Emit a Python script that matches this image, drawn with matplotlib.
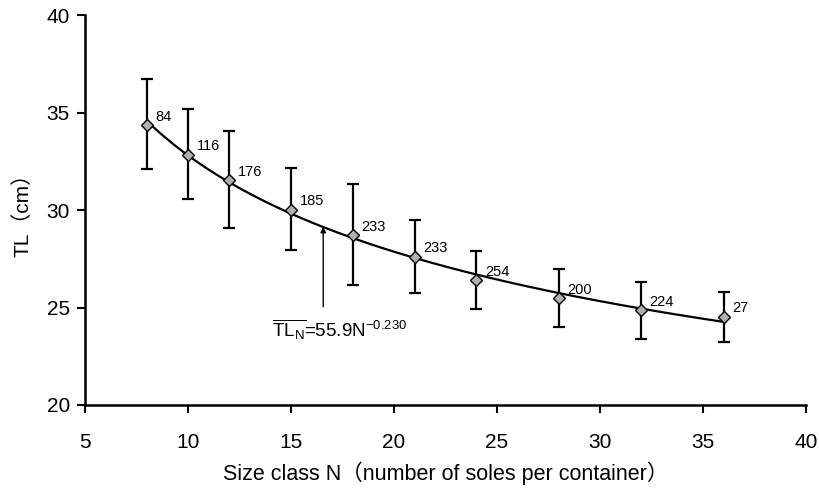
import numpy as np
import matplotlib
matplotlib.use("Agg")
import matplotlib.pyplot as plt

plt.rcParams['font.family'] = ['Liberation Sans', 'Noto Sans CJK JP']
plt.rcParams['mathtext.fontset'] = 'custom'
plt.rcParams['mathtext.rm'] = 'Liberation Sans'
plt.rcParams['mathtext.it'] = 'Liberation Sans'

# Data
size_class = [8, 10, 12, 15, 18, 21, 24, 28, 32, 36]
mean_tl = [34.36, 32.84, 31.52, 30.01, 28.72, 27.61, 26.41, 25.47, 24.87, 24.53]
upper_tl = [36.70, 35.16, 34.04, 32.14, 31.32, 29.49, 27.90, 26.96, 26.32, 25.81]
lower_tl = [32.09, 30.58, 29.08, 27.95, 26.17, 25.74, 24.91, 24.00, 23.40, 23.25]
counts = ["84", "116", "176", "185", "233", "233", "254", "200", "224", "27"]
x_ticks = [5, 10, 15, 20, 25, 30, 35, 40]
y_ticks = [20, 25, 30, 35, 40]
eq_text = r'$\overline{\mathrm{TL}_{\mathrm{N}}}$=55.9N$^{\mathrm{-0.230}}$'
arrow_x = 16.56
arrow_y_from = 25.04
arrow_y_to = 29.14

x = np.array(size_class, dtype=float)
m = np.array(mean_tl)
yerr = np.vstack([m - np.array(lower_tl), np.array(upper_tl) - m])

fig = plt.figure(figsize=(8.19, 4.93), dpi=100)
ax = fig.add_axes([0.104, 0.1785, 0.88, 0.791])

# power-law fit curve
b, loga = np.polyfit(np.log(x), np.log(m), 1)
xc = np.linspace(x.min(), x.max(), 200)
ax.plot(xc, np.exp(loga) * xc ** b, color='black', lw=1.6, zorder=2)

ax.errorbar(x, m, yerr=yerr, fmt='none', ecolor='black', elinewidth=1.6,
            capsize=4, capthick=1.6, zorder=3)
ax.plot(x, m, linestyle='none', marker='D', markersize=6,
        markerfacecolor='#b0b0b0', markeredgecolor='black',
        markeredgewidth=1.0, zorder=4)

for xi, yi, c in zip(x, m, counts):
    ax.annotate(c, (xi, yi), xytext=(6, 6), textcoords='offset points',
                ha='left', va='center', fontsize=10.5)

ax.annotate('', xy=(arrow_x, arrow_y_to), xytext=(arrow_x, arrow_y_from),
            arrowprops=dict(arrowstyle='-|>', color='black', lw=1.0,
                            mutation_scale=8, shrinkA=0, shrinkB=0))
ax.text(14.07, 23.5, eq_text, fontsize=13.5, ha='left', va='baseline')

ax.set_xlim(5, 40)
ax.set_ylim(20, 40)
ax.set_xticks(x_ticks)
ax.set_yticks(y_ticks)
ax.spines['top'].set_visible(False)
ax.spines['right'].set_visible(False)
for s in ('left', 'bottom'):
    ax.spines[s].set_linewidth(1.8)
ax.tick_params(axis='y', direction='out', length=6, width=1.5, pad=5, labelsize=15)
ax.tick_params(axis='x', direction='out', length=6, width=1.5, pad=14, labelsize=15)

ax.set_xlabel('Size class N（number of soles per container）', fontsize=15.5, labelpad=7)
ax.set_ylabel('TL（cm）', fontsize=15, labelpad=10)

fig.savefig('out.png', dpi=100)
